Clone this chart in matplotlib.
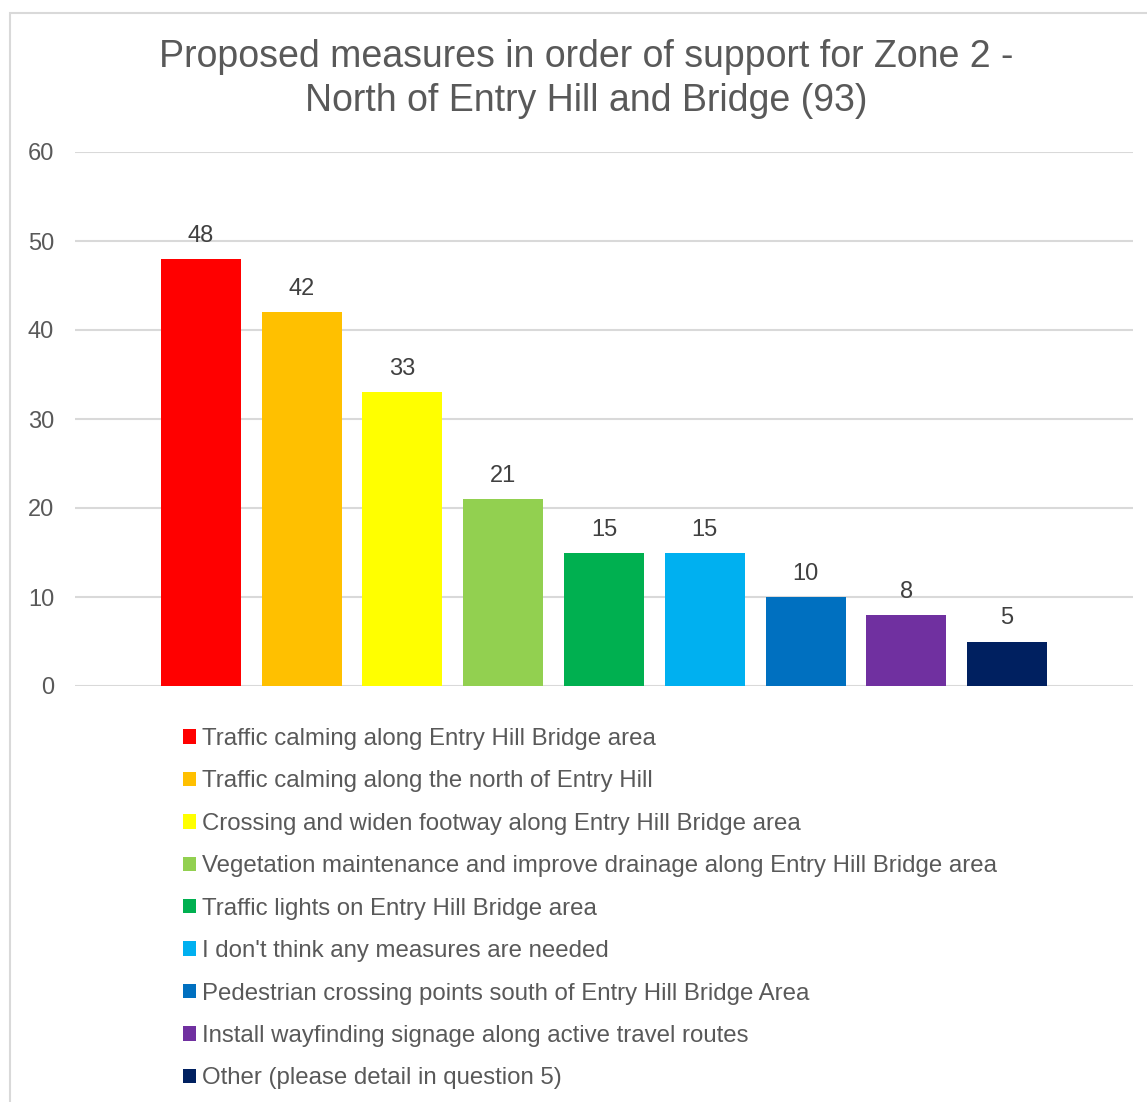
import matplotlib
matplotlib.use("Agg")
import matplotlib.pyplot as plt
from matplotlib.patches import Rectangle

plt.rcParams['font.family'] = ['Liberation Sans', 'DejaVu Sans']

measures = [
    "Traffic calming along Entry Hill Bridge area",
    "Traffic calming along the north of Entry Hill",
    "Crossing and widen footway along Entry Hill Bridge area",
    "Vegetation maintenance and improve drainage along Entry Hill Bridge area",
    "Traffic lights on Entry Hill Bridge area",
    "I don't think any measures are needed",
    "Pedestrian crossing points south of Entry Hill Bridge Area",
    "Install wayfinding signage along active travel routes",
    "Other (please detail in question 5)",
]
votes = [48, 42, 33, 21, 15, 15, 10, 8, 5]
colours = ["#FF0000", "#FFC000", "#FFFF00", "#92D050", "#00B050",
           "#00B0F0", "#0070C0", "#7030A0", "#002060"]
yticks = [0, 10, 20, 30, 40, 50, 60]

W, H = 1147, 1102
fig = plt.figure(figsize=(W / 100, H / 100), dpi=100)

# chart frame, only left and top edges visible
fig.patches.append(Rectangle((9.5 / W, -0.5), 2, 1.5 - 13 / H, transform=fig.transFigure,
                             fill=False, edgecolor="#d9d9d9", lw=1.5))

ax = fig.add_axes([75 / W, 1 - 686 / H, (1133 - 75) / W, (686 - 152) / H])
x = list(range(len(votes)))
bars = ax.bar(x, votes, width=0.794, color=colours, zorder=2)
ax.set_xlim(-1.25, 9.25)
ax.set_ylim(0, 60)
ax.set_yticks(yticks)
ax.set_xticks([])
ax.grid(axis="y", color="#d9d9d9", lw=1.5, zorder=0)
for s in ax.spines.values():
    s.set_visible(False)
ax.tick_params(axis="y", length=0, pad=15, labelsize=17, labelcolor="#595959")

for b, v in zip(bars, votes):
    ax.annotate(str(v), (b.get_x() + b.get_width() / 2, v), xytext=(0, 12),
                textcoords="offset pixels", ha="center", va="bottom",
                fontsize=17, color="#404040")

fig.text(586.5 / W, 1 - 79 / H,
         "Proposed measures in order of support for Zone 2 -\nNorth of Entry Hill and Bridge (93)",
         ha="center", va="center", fontsize=27, color="#595959", linespacing=1.26)

fig.legend(bars.patches, measures, loc="upper left",
           bbox_to_anchor=(183 / W, 1 - 728 / H), borderaxespad=0, borderpad=0,
           frameon=False, fontsize=17.3, labelcolor="#595959",
           handlelength=0.54, handleheight=0.54, handletextpad=0.25,
           labelspacing=0.85)

fig.savefig("out.png", dpi=100)
